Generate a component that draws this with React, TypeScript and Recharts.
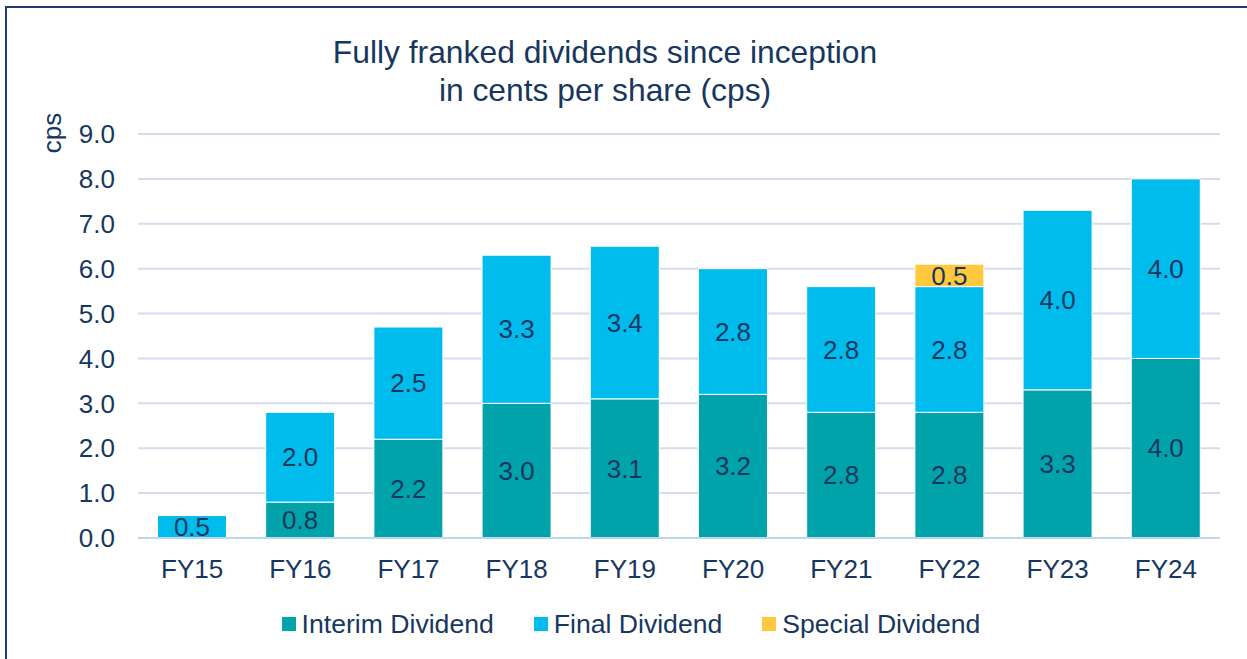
import { Bar, BarChart, CartesianGrid, LabelList, Legend, XAxis, YAxis } from "recharts"

const years = ["FY15", "FY16", "FY17", "FY18", "FY19", "FY20", "FY21", "FY22", "FY23", "FY24"]
const interim = [0, 0.8, 2.2, 3.0, 3.1, 3.2, 2.8, 2.8, 3.3, 4.0]
const final = [0.5, 2.0, 2.5, 3.3, 3.4, 2.8, 2.8, 2.8, 4.0, 4.0]
const special = [0, 0, 0, 0, 0, 0, 0, 0.5, 0, 0]
const yTicks = [0, 1, 2, 3, 4, 5, 6, 7, 8, 9]

const data = years.map((name, i) => ({
  name,
  interim: interim[i],
  final: final[i],
  special: special[i],
}))

const font = '"Liberation Sans", Arial, sans-serif'
const navy = "#17375E"

const series = [
  { key: "interim", label: "Interim Dividend", color: "#00A3AA" },
  { key: "final", label: "Final Dividend", color: "#00BCEC" },
  { key: "special", label: "Special Dividend", color: "#FFC83D" },
]

const fmt = (v: any) => (v ? Number(v).toFixed(1) : "")

function LegendBox() {
  return (
    <div style={{ display: "flex", justifyContent: "center", height: 30, alignItems: "center", fontFamily: font, fontSize: 26.6, color: navy, paddingLeft: 42 }}>
      {series.map((s, i) => (
        <div key={s.key} style={{ display: "flex", alignItems: "center", marginLeft: i ? 40 : 0 }}>
          <span style={{ width: 14, height: 14, background: s.color, marginRight: 6, display: "inline-block" }} />
          <span>{s.label}</span>
        </div>
      ))}
    </div>
  )
}

export default function App() {
  return (
    <div style={{ position: "absolute", left: 0, top: 0, width: 1247, height: 659, overflow: "hidden", background: "#fff", fontFamily: font }}>
      <div style={{ position: "absolute", left: 5, top: 6, width: 1400, height: 800, border: "2px solid #1F3A73" }} />
      <div style={{ position: "absolute", left: 0, top: 33, width: 1210, textAlign: "center", fontSize: 31.8, lineHeight: "38px", color: navy }}>
        Fully franked dividends since inception
        <br />
        in cents per share (cps)
      </div>
      <div style={{ position: "absolute", left: 52, top: 133, transform: "translate(-50%, -50%) rotate(-90deg)", fontSize: 26, color: navy }}>
        cps
      </div>
      <BarChart width={1247} height={659} data={data} margin={{ top: 134, right: 27, bottom: 20, left: 0 }} barCategoryGap="18%">
        <CartesianGrid vertical={false} stroke="#D6DCEC" strokeWidth={2} />
        <XAxis
          dataKey="name"
          height={71}
          tickLine={false}
          axisLine={{ stroke: "#BDD7EE", strokeWidth: 2 }}
          tickSize={0}
          tickMargin={22}
          tick={{ fill: navy, fontSize: 26, fontFamily: font }}
        />
        <YAxis
          width={138}
          domain={[0, 9]}
          ticks={yTicks}
          interval={0}
          axisLine={false}
          tickLine={false}
          tickSize={0}
          tickMargin={23}
          tickFormatter={(v) => Number(v).toFixed(1)}
          tick={{ fill: navy, fontSize: 26, fontFamily: font }}
        />
        <Legend verticalAlign="bottom" content={() => <LegendBox />} />
        {series.map((s) => (
          <Bar key={s.key} dataKey={s.key} stackId="a" fill={s.color} stroke="#ffffff" strokeWidth={1} isAnimationActive={false}>
            <LabelList dataKey={s.key} position="center" formatter={fmt} fill={navy} fontSize={26} fontFamily={font} />
          </Bar>
        ))}
      </BarChart>
    </div>
  )
}
